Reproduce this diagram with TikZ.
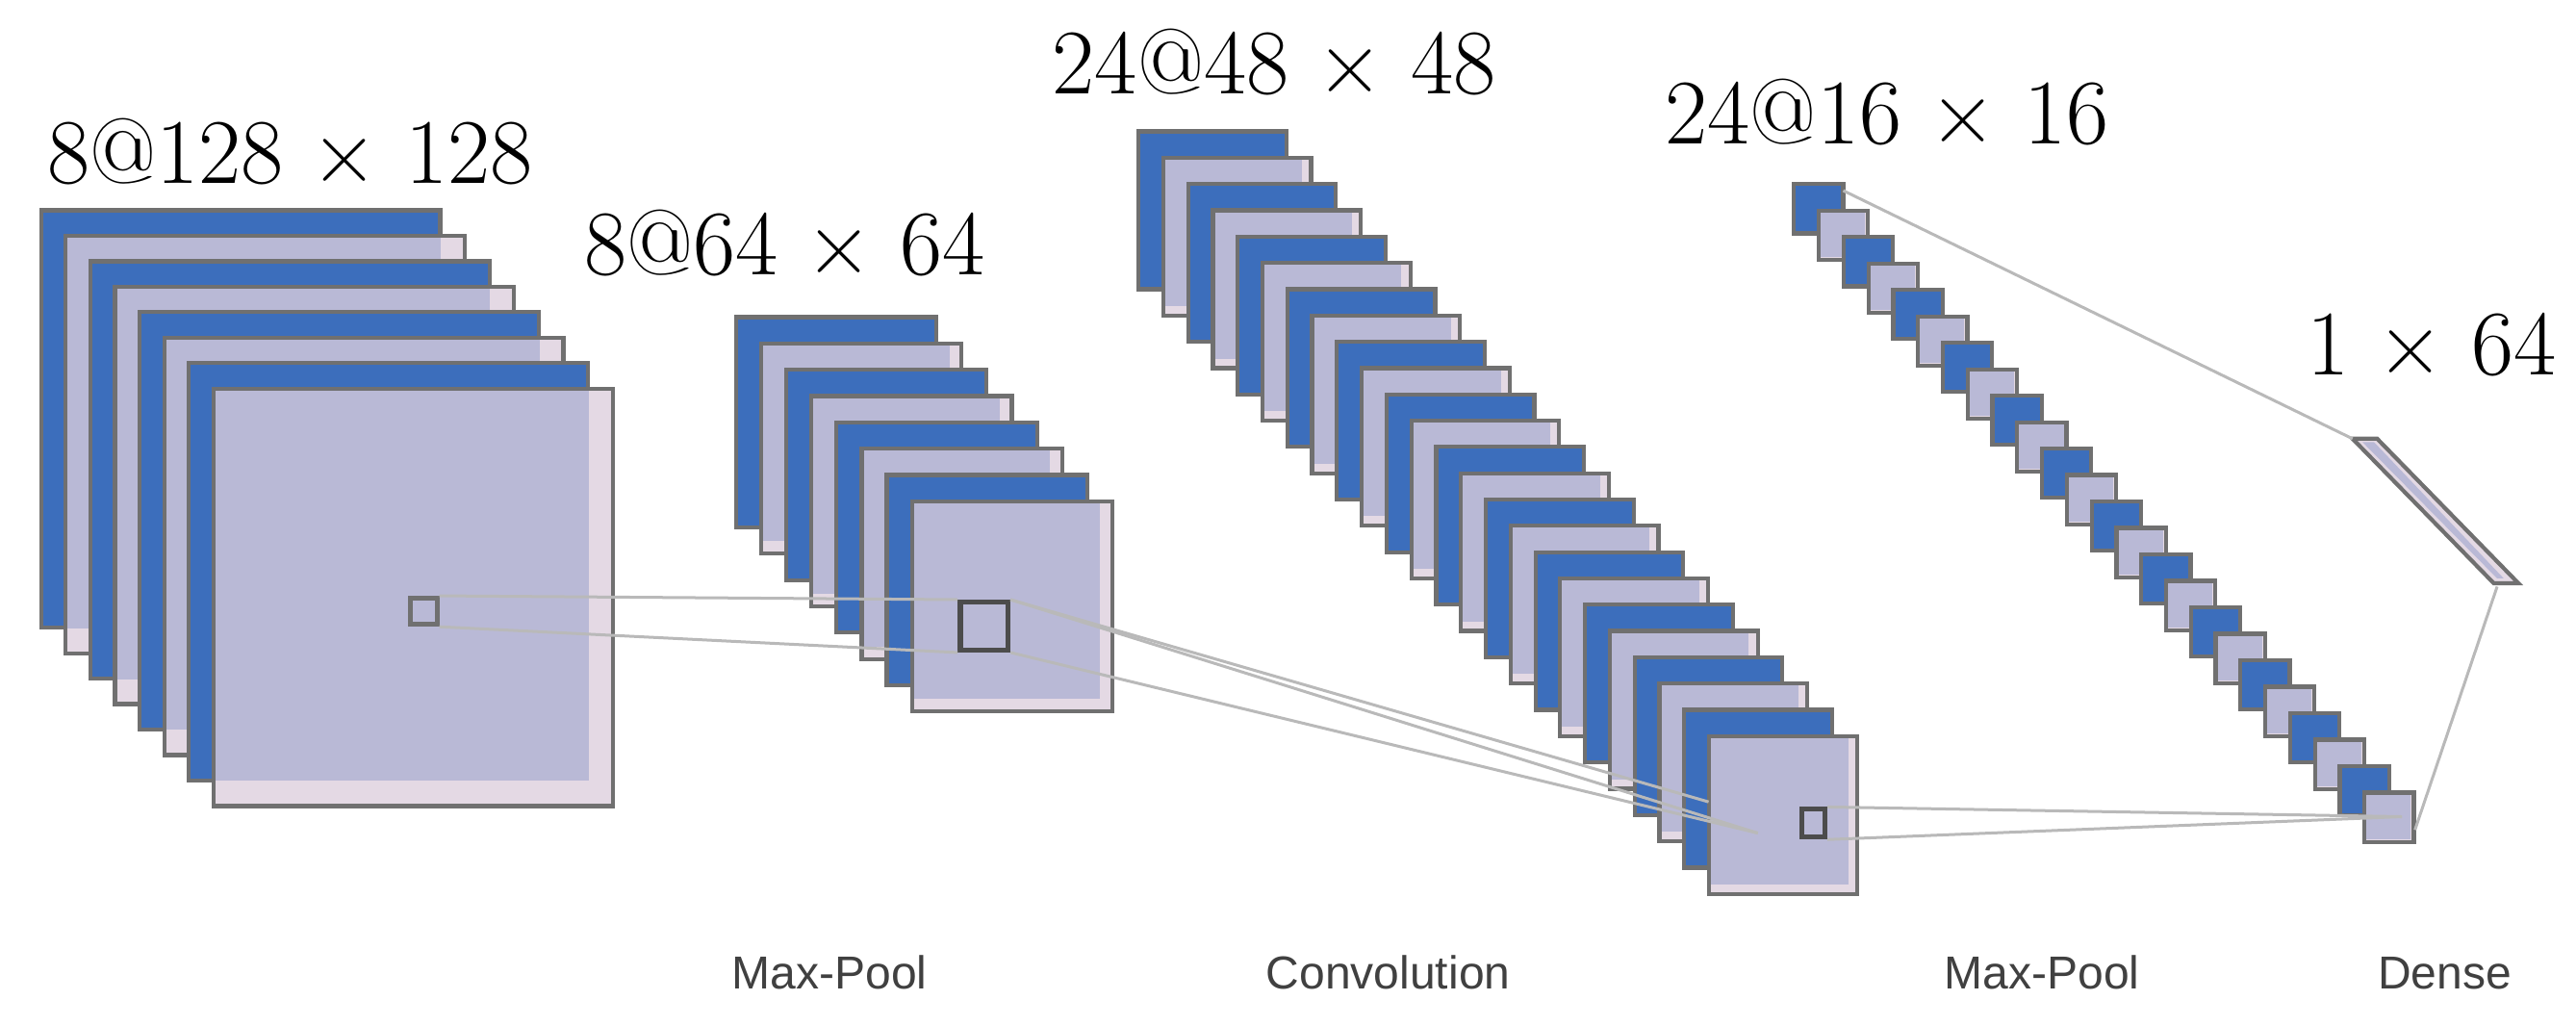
\documentclass[tikz,border=0pt]{standalone}
\usepackage{fontspec}
\newfontfamily\lab{Liberation Sans}
\begin{document}
\begin{tikzpicture}[x=0.01cm,y=-0.01cm,
  blu/.style={fill=blu1,draw=edg,line width=0.7pt},
  lin/.style={draw=gray!55,line width=0.5pt},
  big/.style={font=\fontsize{16}{19}\selectfont,inner sep=0pt},
  small/.style={font=\lab\fontsize{8}{10}\selectfont,text=black!75,inner sep=0pt}]
\definecolor{blu1}{HTML}{3C6EBC}
\definecolor{lav}{HTML}{B9B9D6}
\definecolor{pnk}{HTML}{E4D9E4}
\definecolor{edg}{HTML}{707070}
\useasboundingbox (0,0) rectangle (1568,624);
\newcommand{\mystack}[7]{%
  \foreach \i in {0,...,#7}{%
    \pgfmathsetmacro{\xa}{#1+\i*#3}\pgfmathsetmacro{\ya}{#2+\i*#4}%
    \pgfmathsetmacro{\xb}{\xa+#5}\pgfmathsetmacro{\yb}{\ya+#6}%
    \pgfmathtruncatemacro{\odd}{mod(\i,2)}%
    \ifnum\odd=0
      \draw[blu] (\xa,\ya) rectangle (\xb,\yb);
    \else
      \fill[pnk] (\xa,\ya) rectangle (\xb,\yb);
      \fill[lav] (\xa,\ya) rectangle ({\xb-0.06*#5},{\yb-0.06*#6});
      \draw[edg,line width=0.7pt] (\xa,\ya) rectangle (\xb,\yb);
    \fi}}
\mystack{25}{128}{15}{15.5}{243}{254}{7}
\mystack{448}{193}{15.3}{16}{122}{128}{7}
\mystack{693}{80}{15.1}{16}{90}{96}{23}
\mystack{1092}{112}{15.1}{16.1}{30}{30}{23}
% dense
\fill[pnk,draw=edg,line width=0.7pt] (1432,267) -- (1447,267) -- (1533,355) -- (1518,355) -- cycle;
\fill[lav] (1438,269) -- (1445,269) -- (1524,352) -- (1520,352) -- cycle;
% small kernel squares
\node[draw=edg,line width=0.8pt,minimum width=0.16cm,minimum height=0.16cm,inner sep=0pt] (k1) at (258,372) {};
\node[draw=black!70,line width=0.9pt,minimum width=0.29cm,minimum height=0.29cm,inner sep=0pt] (k2) at (599,381) {};
\node[draw=black!70,line width=0.8pt,minimum width=0.14cm,minimum height=0.17cm,inner sep=0pt] (k3) at (1104,501) {};
\coordinate (p3) at (1070,507);
\coordinate (p4) at (1462,497);
\coordinate (d1) at (1122,116);
\coordinate (c3) at (1040,488);
\coordinate (dt) at (1432,267);
\coordinate (db) at (1520,357);
\coordinate (l4) at (1470,505);
\draw[lin] (k1.north east) -- (k2.north west);
\draw[lin] (k1.south east) -- (k2.south west);
\draw[lin] (k2.north east) -- (p3);
\draw[lin] (k2.south east) -- (p3);
\draw[lin] (k2.north east) -- (c3);
\draw[lin] (k3.north east) -- (p4);
\draw[lin] (k3.south east) -- (p4);
\draw[lin] (d1) -- (dt);
\draw[lin] (l4) -- (db);
% labels
\node[big,anchor=west] (t1) at (28,92) {8@128 × 128};
\node[big,anchor=west] (t2) at (355,148) {8@64 × 64};
\node[big,anchor=west] (t3) at (640,38) {24@48 × 48};
\node[big,anchor=west] (t4) at (1013,68) {24@16 × 16};
\node[big,anchor=east] (t5) at (1557,210) {1 × 64};
\node[small] (b1) at (505,592) {Max-Pool};
\node[small] (b2) at (845,592) {Convolution};
\node[small] (b3) at (1243,592) {Max-Pool};
\node[small] (b4) at (1488,592) {Dense};
\end{tikzpicture}
\end{document}
